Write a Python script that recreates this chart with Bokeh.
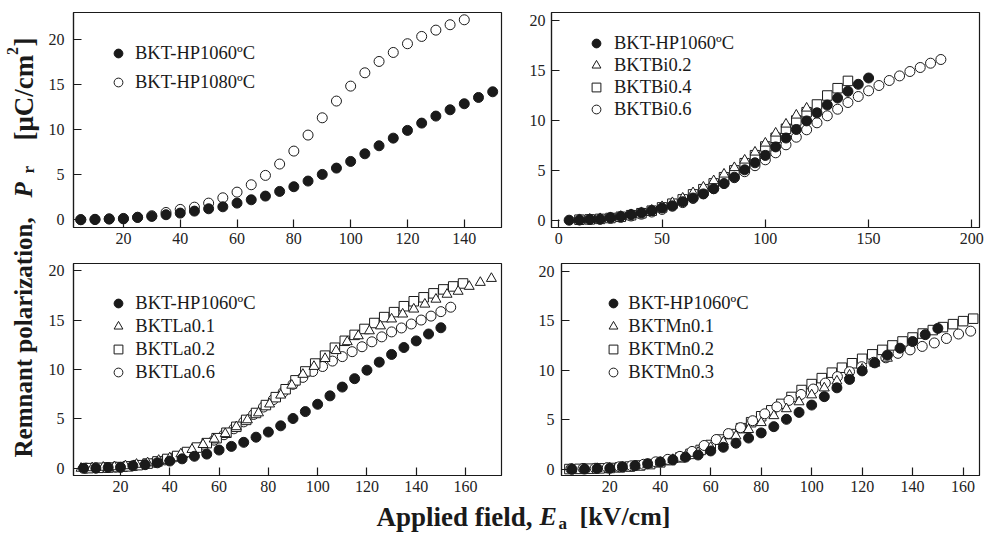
import math
from bokeh.plotting import figure
from bokeh.models import Range1d, FixedTicker, Legend, LegendItem, Label
from bokeh.layouts import row, column
from bokeh.embed import file_html
from bokeh.resources import INLINE

SERIF = "Liberation Serif"
INK = "#1a1a1a"

# ---------------- data ----------------
# BKT-HP1060ºC (filled circles, shown in all panels)
hp1060_x = [5, 10, 15, 20, 25, 30, 35, 40, 45, 50, 55, 60, 65, 70, 75, 80, 85, 90, 95, 100,
            105, 110, 115, 120, 125, 130, 135, 140, 145, 150]
hp1060_y = [0.0, 0.02, 0.08, 0.1, 0.26, 0.37, 0.56, 0.74, 0.96, 1.22, 1.44, 1.85, 2.22, 2.63, 3.15,
            3.67, 4.30, 5.04, 5.74, 6.48, 7.33, 8.22, 9.07, 9.93, 10.74, 11.52, 12.22, 12.89, 13.59, 14.22]

# panel 1: BKT-HP1080ºC
hp1080_x = [5, 10, 15, 20, 25, 30, 35, 40, 45, 50, 55, 60, 65, 70, 75, 80, 85, 90, 95, 100,
            105, 110, 115, 120, 125, 130, 135, 140]
hp1080_y = [0.02, 0.05, 0.1, 0.15, 0.28, 0.45, 0.81, 1.15, 1.4, 1.85, 2.44, 3.07, 3.89, 4.93, 6.19,
            7.63, 9.41, 11.33, 13.19, 14.85, 16.33, 17.59, 18.59, 19.56, 20.37, 21.07, 21.67, 22.22]

# panel 2: Bi series
bi02_x = [10, 15, 20, 25, 30, 35, 40, 45, 50, 55, 60, 65, 70, 75, 80, 85, 90, 95, 100, 105, 110, 115, 120]
bi02_y = [0.05, 0.1, 0.15, 0.25, 0.38, 0.55, 0.75, 1.0, 1.35, 1.75, 2.2, 2.74, 3.3, 3.94, 4.6, 5.25,
          6.0, 6.8, 7.7, 8.7, 9.6, 10.5, 11.2]
bi04_x = [10, 15, 20, 25, 30, 35, 40, 45, 50, 55, 60, 65, 70, 75, 80, 85, 90, 95, 100, 105, 110, 115,
          120, 125, 130, 135, 140]
bi04_y = [0.05, 0.08, 0.13, 0.22, 0.34, 0.5, 0.7, 0.95, 1.28, 1.65, 2.08, 2.58, 3.1, 3.68, 4.3, 4.98,
          5.7, 6.5, 7.37, 8.24, 9.14, 9.97, 10.8, 11.57, 12.47, 13.2, 13.93]
bi06_x = [10, 15, 20, 25, 30, 35, 40, 45, 50, 55, 60, 65, 70, 75, 80, 85, 90, 95, 100, 105, 110, 115,
          120, 125, 130, 135, 140, 145, 150, 155, 160, 165, 170, 175, 180, 185]
bi06_y = [0.04, 0.07, 0.11, 0.18, 0.28, 0.42, 0.6, 0.82, 1.08, 1.4, 1.76, 2.18, 2.65, 3.15, 3.68, 4.25,
          4.85, 5.45, 6.04, 6.74, 7.54, 8.3, 9.04, 9.74, 10.44, 11.1, 11.77, 12.37, 12.94, 13.47, 13.97,
          14.43, 14.87, 15.27, 15.7, 16.07]

# panel 3: La series
la01_x = [4, 8.5, 13, 17.5, 22, 26.5, 31, 35.5, 40, 44.5, 49, 53.5, 58, 62.5, 67, 71.5, 76, 80.5, 85,
          89.5, 94, 98.5, 103, 107.5, 112, 116.5, 121, 125.5, 130, 134.5, 139, 143.5, 148, 152.5, 157,
          161.5, 166, 170.5]
la01_y = [0.0, 0.05, 0.1, 0.15, 0.25, 0.4, 0.55, 0.8, 1.05, 1.45, 1.9, 2.4, 2.95, 3.5, 4.2, 4.9, 5.6,
          6.5, 7.4, 8.4, 9.5, 10.3, 11.1, 11.9, 12.8, 13.4, 13.9, 14.4, 15.1, 15.6, 16.1, 16.6, 17.1,
          17.6, 17.9, 18.4, 18.8, 19.2]
la02_x = [7, 11, 15, 19, 23, 27, 31, 35, 39, 43, 47, 51, 55, 59, 63, 67, 71, 75, 79, 83, 87, 91, 95,
          99, 103, 107, 111, 115, 119, 123, 127, 131, 135, 139, 143, 147, 151, 155, 159]
la02_y = [0.02, 0.05, 0.08, 0.13, 0.2, 0.32, 0.48, 0.7, 0.95, 1.25, 1.65, 2.1, 2.55, 3.05, 3.6, 4.2,
          4.9, 5.6, 6.4, 7.2, 8.0, 8.9, 9.8, 10.6, 11.4, 12.2, 12.9, 13.5, 14.1, 14.7, 15.3, 15.8, 16.4,
          16.9, 17.3, 17.7, 18.1, 18.4, 18.7]
la06_x = [6, 10, 14, 18, 22, 26, 30, 34, 38, 42, 46, 50, 54, 58, 62, 66, 70, 74, 78, 82, 86, 90, 94,
          98, 102, 106, 110, 114, 118, 122, 126, 130, 134, 138, 142, 146, 150, 154]
la06_y = [0.02, 0.05, 0.08, 0.12, 0.18, 0.28, 0.42, 0.6, 0.85, 1.15, 1.5, 1.9, 2.35, 2.85, 3.4, 4.0,
          4.7, 5.45, 6.2, 6.95, 7.7, 8.5, 9.2, 9.8, 10.3, 10.85, 11.3, 11.8, 12.3, 12.8, 13.3, 13.8,
          14.2, 14.6, 15.0, 15.4, 15.85, 16.3]

# panel 4: Mn series
mn01_x = [5, 10, 15, 20, 25, 30, 35, 40, 45, 50, 55, 60, 65, 70, 75, 80, 85, 90, 95, 100, 105, 110,
          115, 120, 125, 130]
mn01_y = [0.0, 0.03, 0.07, 0.12, 0.2, 0.32, 0.48, 0.7, 0.98, 1.3, 1.7, 2.2, 2.75, 3.35, 4.0, 4.7,
          5.4, 6.1, 6.8, 7.5, 8.2, 8.9, 9.5, 10.1, 10.7, 11.2]
mn02_x = [4, 8, 12, 16, 20, 24, 28, 32, 36, 40, 44, 48, 52, 56, 60, 64, 68, 72, 76, 80, 84, 88, 92,
          96, 100, 104, 108, 112, 116, 120, 124, 128, 132, 136, 140, 144, 148, 152, 156, 160, 164]
mn02_y = [0.02, 0.04, 0.06, 0.09, 0.13, 0.19, 0.27, 0.38, 0.52, 0.7, 0.92, 1.2, 1.55, 1.95, 2.45,
          3.0, 3.55, 4.15, 4.75, 5.35, 5.95, 6.6, 7.3, 8.0, 8.6, 9.2, 9.75, 10.25, 10.7, 11.15, 11.6,
          12.05, 12.5, 12.9, 13.3, 13.7, 14.05, 14.35, 14.65, 14.95, 15.2]
mn03_x = [4.6, 9.4, 14.2, 19.0, 23.8, 28.6, 33.4, 38.2, 43.0, 47.8, 52.6, 57.4, 62.2, 67.0, 71.8,
          76.6, 81.4, 86.2, 91.0, 95.8, 100.6, 105.4, 110.2, 115.0, 119.8, 124.6, 129.4, 134.2, 139.0,
          143.8, 148.6, 153.4, 158.2, 163.0]
mn03_y = [0.05, 0.08, 0.1, 0.15, 0.25, 0.35, 0.5, 0.75, 1.0, 1.3, 1.8, 2.4, 3.0, 3.6, 4.2, 4.9, 5.6,
          6.3, 6.95, 7.55, 8.1, 8.7, 9.35, 9.85, 10.35, 10.8, 11.25, 11.7, 12.05, 12.4, 12.75, 13.2,
          13.65, 13.94]

# tick values
ticks_x1 = [20, 40, 60, 80, 100, 120, 140]
ticks_x2 = [0, 50, 100, 150, 200]
ticks_x34 = [20, 40, 60, 80, 100, 120, 140, 160]
ticks_y = [0, 5, 10, 15, 20]

# legend labels
lab_hp1060 = "BKT-HP1060\u00baC"
lab_hp1080 = "BKT-HP1080\u00baC"
labs_bi = ["BKTBi0.2", "BKTBi0.4", "BKTBi0.6"]
labs_la = ["BKTLa0.1", "BKTLa0.2", "BKTLa0.6"]
labs_mn = ["BKTMn0.1", "BKTMn0.2", "BKTMn0.3"]


# ---------------- helpers ----------------
def panel(w, h, bl, br, bt, bb, xr, yr, xticks, standoff_y):
    p = figure(width=w, height=h, x_range=Range1d(*xr), y_range=Range1d(*yr),
               output_backend="svg", toolbar_location=None,
               min_border_left=bl, min_border_right=br, min_border_top=bt, min_border_bottom=bb)
    p.xgrid.visible = False
    p.ygrid.visible = False
    p.outline_line_color = INK
    p.outline_line_width = 1.2
    p.background_fill_color = "white"
    p.border_fill_color = "white"
    p.xaxis.ticker = FixedTicker(ticks=xticks)
    p.yaxis.ticker = FixedTicker(ticks=ticks_y)
    for ax in (p.xaxis[0], p.yaxis[0]):
        ax.major_tick_in = 8
        ax.major_tick_out = 0
        ax.minor_tick_in = 0
        ax.minor_tick_out = 0
        ax.axis_line_color = INK
        ax.axis_line_width = 1.2
        ax.major_tick_line_color = INK
        ax.major_tick_line_width = 1.2
        ax.major_label_text_font = SERIF
        ax.major_label_text_font_size = "16px"
        ax.major_label_text_color = "#222222"
    p.xaxis[0].major_label_standoff = 5
    p.yaxis[0].major_label_standoff = standoff_y
    return p


def filled(p, x, y):
    return p.scatter(x, y, marker="circle", size=10, fill_color=INK, line_color=INK, line_width=1)


def hollow(p, x, y, marker, size):
    return p.scatter(x, y, marker=marker, size=size, fill_color="white", line_color=INK, line_width=1)


def legend(p, items, frame_h, vx, top_center, spacing, standoff):
    row_h = 22
    n = len(items)
    leg_h = n * row_h + (n - 1) * spacing
    vy = frame_h - (top_center - row_h / 2) - leg_h
    leg = Legend(items=items, location=(vx, vy), orientation="vertical", padding=0, margin=0,
                 spacing=spacing, glyph_width=22, glyph_height=22, label_height=22,
                 label_standoff=standoff, label_text_font=SERIF, label_text_font_size="18.5px",
                 label_text_color="#1a1a1a", border_line_color=None, background_fill_alpha=0)
    p.add_layout(leg)


# ---------------- panels ----------------
p1 = panel(478, 253, 30, 20, 12, 26, (2.43, 153.1), (-0.86, 23.03), ticks_x1, 9)
r1b = hollow(p1, hp1080_x, hp1080_y, "circle", 10)
r1a = filled(p1, hp1060_x, hp1060_y)
legend(p1, [LegendItem(label=lab_hp1060, renderers=[r1a]),
            LegendItem(label=lab_hp1080, renderers=[r1b])], 215, 34, 41.3, 7, 6)

p2 = panel(472, 253, 30, 14, 12, 26, (-3.54, 203.7), (-0.73, 20.77), ticks_x2, 6)
r2d = hollow(p2, bi06_x, bi06_y, "circle", 10)
r2c = hollow(p2, bi04_x, bi04_y, "square", 9.5)
r2b = hollow(p2, bi02_x, bi02_y, "triangle", 10)
r2a = filled(p2, hp1060_x, hp1060_y)
legend(p2, [LegendItem(label=lab_hp1060, renderers=[r2a]),
            LegendItem(label=labs_bi[0], renderers=[r2b]),
            LegendItem(label=labs_bi[1], renderers=[r2c]),
            LegendItem(label=labs_bi[2], renderers=[r2d])], 215, 34, 31.3, 0, 7)

p3 = panel(478, 248, 30, 20, 6, 26, (0.93, 174.6), (-0.725, 20.72), ticks_x34, 9)
r3d = hollow(p3, la06_x, la06_y, "circle", 10)
r3c = hollow(p3, la02_x, la02_y, "square", 9.5)
r3b = hollow(p3, la01_x, la01_y, "triangle", 10)
r3a = filled(p3, hp1060_x, hp1060_y)
legend(p3, [LegendItem(label=lab_hp1060, renderers=[r3a]),
            LegendItem(label=labs_la[0], renderers=[r3b]),
            LegendItem(label=labs_la[1], renderers=[r3c]),
            LegendItem(label=labs_la[2], renderers=[r3d])], 216, 34.3, 44.3, 1, 6)

p4 = panel(472, 248, 40, 14, 10, 26, (0.87, 166.5), (-0.63, 20.77), ticks_x34, 7)
r4c = hollow(p4, mn02_x, mn02_y, "square", 9.5)
r4d = hollow(p4, mn03_x, mn03_y, "circle", 10)
r4b = hollow(p4, mn01_x, mn01_y, "triangle", 10)
r4a = filled(p4, hp1060_x, hp1060_y)
legend(p4, [LegendItem(label=lab_hp1060, renderers=[r4a]),
            LegendItem(label=labs_mn[0], renderers=[r4b]),
            LegendItem(label=labs_mn[1], renderers=[r4c]),
            LegendItem(label=labs_mn[2], renderers=[r4d])], 212, 41.3, 40.3, 1, 4)


# ---------------- shared axis titles ----------------
def blank(w, h):
    f = figure(width=w, height=h, x_range=Range1d(0, w), y_range=Range1d(0, h),
               output_backend="svg", toolbar_location=None, min_border=0,
               x_axis_location=None, y_axis_location=None)
    f.outline_line_color = None
    f.grid.visible = False
    return f


def lab(f, x, y, text, size, style="bold", angle=0.0):
    f.add_layout(Label(x=x, y=y, text=text, angle=angle, text_font=SERIF, text_font_style=style,
                       text_font_size=size, text_color="#1a1a1a", text_baseline="alphabetic",
                       text_align="left"))


ylab = blank(43, 540)
A = math.pi / 2
lab(ylab, 23, 83, "Remnant polarization,", "25px", "bold", A)
lab(ylab, 23, 343, "P", "25px", "bold italic", A)
lab(ylab, 28, 367, "r", "17px", "bold", A)
lab(ylab, 23, 400, "[\u03bcC/cm", "27px", "bold", A)
lab(ylab, 12, 485.5, "2", "16px", "bold", A)
lab(ylab, 23, 494, "]", "27px", "bold", A)

xlab = blank(950, 39)
lab(xlab, 333, 24, "Applied field,", "27px", "bold")
lab(xlab, 496, 24, "E", "26px", "bold italic")
lab(xlab, 515, 17, "a", "17px", "bold")
lab(xlab, 536, 24, "[kV/cm]", "26px", "bold")

layout = row(ylab, column(row(p1, p2), row(p3, p4), xlab))

with open("out.html", "w") as fh:
    fh.write(file_html(layout, INLINE))
